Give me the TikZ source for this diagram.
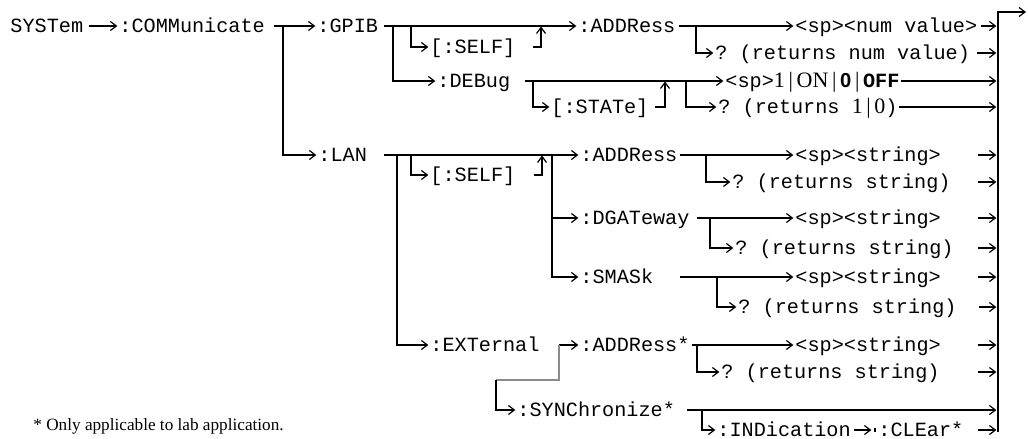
\documentclass[tikz,border=0pt]{standalone}
\usepackage{fontspec}
\setmainfont{Liberation Serif}
\setmonofont{Liberation Mono}
\newfontfamily\sansfam{Liberation Sans}
\usetikzlibrary{arrows.meta}
\begin{document}
\begin{tikzpicture}[x=0.5pt,y=-0.5pt,
  lbl/.style={anchor=west, inner xsep=0pt, inner ysep=0pt, text height=6.5pt, text depth=0pt, font=\fontsize{10.1}{12}\ttfamily},
  ln/.style={line width=0.6pt},
  arr/.style={ln, -{Straight Barb[length=3pt,width=4.5pt,line width=0.6pt]}, shorten >=0.8pt},
  uarr/.style={ln, -{Straight Barb[length=3pt,width=4.5pt,line width=0.6pt]}},
  gline/.style={line width=0.6pt, draw=black!45},
  note/.style={anchor=base west, inner sep=0pt, font=\fontsize{8.6}{10}\rmfamily}
]
\newcommand{\sr}[1]{{\fontsize{11}{12}\rmfamily #1}}
\useasboundingbox (0,0) rectangle (1028,439);

% --- nodes ---
\node[lbl] (sys)   at (10,26)  {SYSTem};
\node[lbl] (comm)  at (119,26) {:COMMunicate};
\node[lbl] (gpib)  at (317,26) {:GPIB};
\node[lbl] (gaddr) at (578,26) {:ADDRess};
\node[lbl] (gnum)  at (795,26) {<sp><num value>};
\node[lbl] (gself) at (430,47) {[:SELF]};
\node[lbl] (gq)    at (715,53) {? (returns num value)};
\node[lbl] (dbg)   at (437,81) {:DEBug};
\node[lbl] (don)   at (725,81) {<sp>\sr{1\,|\,ON\,|\,}{\sansfam\bfseries 0}\sr{\,|\,}{\bfseries OFF}};
\node[lbl] (dstate) at (551,107) {[:STATe]};
\node[lbl] (dq)    at (718,107) {? (returns \sr{1\,|\,0})};
\node[lbl] (lan)   at (318,155) {:LAN};
\node[lbl] (laddr) at (580,155) {:ADDRess};
\node[lbl] (lstr)  at (795,155) {<sp><string>};
\node[lbl] (lself) at (430,175) {[:SELF]};
\node[lbl] (lq)    at (732,182) {? (returns string)};
\node[lbl] (dgw)   at (580,218) {:DGATeway};
\node[lbl] (dstr)  at (795,218) {<sp><string>};
\node[lbl] (dgq)   at (735,248) {? (returns string)};
\node[lbl] (smask) at (580,277) {:SMASk};
\node[lbl] (sstr)  at (795,277) {<sp><string>};
\node[lbl] (sq)    at (738,307) {? (returns string)};
\node[lbl] (ext)   at (430,345) {:EXTernal};
\node[lbl] (eaddr) at (580,345) {:ADDRess*};
\node[lbl] (estr)  at (795,345) {<sp><string>};
\node[lbl] (eq)    at (721,372) {? (returns string)};
\node[lbl] (sync)  at (517,410) {:SYNChronize*};
\node[lbl] (ind)   at (717,430) {:INDication};
\node[lbl] (clr)   at (878,430) {:CLEar*};
\node[note] (fn)   at (33,430) {* Only applicable to lab application.};

% --- junction coordinates ---
\coordinate (bar)   at (998,12);
\coordinate (barb)  at (998,432);
\coordinate (out)   at (1026,12);
\coordinate (cj)    at (283,26);
\coordinate (gsj)   at (411,26);
\coordinate (gdj)   at (393,26);
\coordinate (gsu)   at (541,26.5);
\coordinate (gaj)   at (696,26);
\coordinate (dsj)   at (533,81);
\coordinate (dsu)   at (665,81.5);
\coordinate (dqj)   at (686,81);
\coordinate (lej)   at (397,155);
\coordinate (lsj)   at (411,155);
\coordinate (lsu)   at (542,155.5);
\coordinate (lbj)   at (552,155);
\coordinate (laj)   at (706,155);
\coordinate (dgj)   at (710,218);
\coordinate (smj)   at (717,277);
\coordinate (ej)    at (559,345);
\coordinate (eaj)   at (697,345);
\coordinate (g1)    at (559,380);
\coordinate (g2)    at (496,380);
\coordinate (syj)   at (702,410);

% --- right bar ---
\draw[uarr] (barb) -- (bar) -- (out);

% --- connectors ---
\draw[arr] ([xshift=2.5pt]sys.east) -- (comm.west);
\draw[arr] ([xshift=4.5pt]comm.east) -- (gpib.west);
\draw[arr] (cj) |- (lan.west);
\draw[arr] ([xshift=3pt]gpib.east) -- (gaddr.west);
\draw[arr] (gsj) |- (gself.west);
\draw[uarr] ([xshift=8.5pt]gself.east) -| (gsu);
\draw[arr] (gdj) |- (dbg.west);
\draw[arr] ([xshift=1.5pt]gaddr.east) -- (gnum.west);
\draw[arr] (gaj) |- (gq.west);
\draw[arr] ([xshift=1.5pt]gnum.east) -- (gnum.east -| bar);
\draw[arr] ([xshift=3.5pt]gq.east) -- (gq.east -| bar);

\draw[arr] ([xshift=7pt]dbg.east) -- (don.west);
\draw[arr] (dsj) |- (dstate.west);
\draw[uarr] ([xshift=3pt]dstate.east) -| (dsu);
\draw[arr] (dqj) |- (dq.west);
\draw[arr] ([xshift=0.5pt]don.east) -- (don.east -| bar);
\draw[arr] ([xshift=0.5pt]dq.east) -- (dq.east -| bar);

\draw[arr] ([xshift=8.5pt]lan.east) -- (laddr.west);
\draw[arr] (lej) |- (ext.west);
\draw[arr] (lsj) |- (lself.west);
\draw[uarr] ([xshift=9pt]lself.east) -| (lsu);
\draw[arr] (lbj) |- (dgw.west);
\draw[arr] (lbj) |- (smask.west);
\draw[arr] ([xshift=1pt]laddr.east) -- (lstr.west);
\draw[arr] (laj) |- (lq.west);
\draw[arr] ([xshift=18.5pt]lstr.east) -- (lstr.east -| bar);
\draw[arr] ([xshift=13.5pt]lq.east) -- (lq.east -| bar);

\draw[arr] ([xshift=3.5pt]dgw.east) -- (dstr.west);
\draw[arr] (dgj) |- (dgq.west);
\draw[arr] ([xshift=18.5pt]dstr.east) -- (dstr.east -| bar);
\draw[arr] ([xshift=12pt]dgq.east) -- (dgq.east -| bar);

\draw[arr] ([xshift=13pt]smask.east) -- (sstr.west);
\draw[arr] (smj) |- (sq.west);
\draw[arr] ([xshift=18.5pt]sstr.east) -- (sstr.east -| bar);
\draw[arr] ([xshift=11pt]sq.east) -- (sq.east -| bar);

\draw[arr] (ej) -- (eaddr.west);
\draw[gline] (ej) -- (g1) -- (g2);
\draw[arr] (g2) |- (sync.west);
\draw[arr] ([xshift=1pt]eaddr.east) -- (estr.west);
\draw[arr] (eaj) |- (eq.west);
\draw[arr] ([xshift=18.5pt]estr.east) -- (estr.east -| bar);
\draw[arr] ([xshift=19pt]eq.east) -- (eq.east -| bar);

\draw[arr] ([xshift=6pt]sync.east) -- (sync.east -| bar);
\draw[arr] (syj) |- (ind.west);
\draw[arr] ([xshift=1.5pt]ind.east) -- ([xshift=-2.5pt]clr.west);
\draw[ln] ([xshift=-1.5pt,yshift=-1pt]clr.west) -- ++(0,-4);
\draw[arr] ([xshift=7pt]clr.east) -- (clr.east -| bar);
\end{tikzpicture}
\end{document}
